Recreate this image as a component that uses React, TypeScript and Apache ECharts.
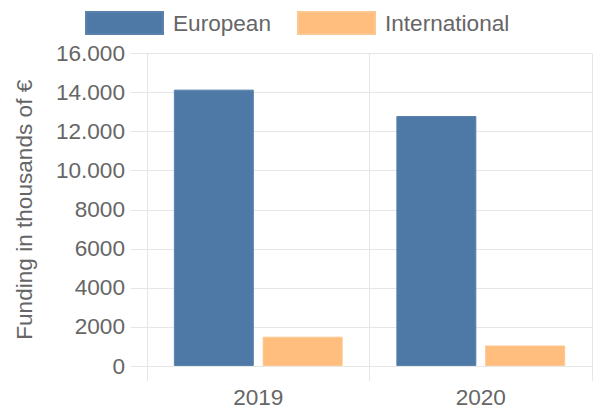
import React, { useEffect, useRef } from "react";
import * as echarts from "echarts";

const categories = ["2019", "2020"];
const seriesNames = ["European", "International"];
const europeanValues = [14150, 12800];
const internationalValues = [1500, 1050];
const yTicks = [0, 2000, 4000, 6000, 8000, 10000, 12000, 14000, 16000];

const FONT = "'Liberation Sans', Arial, Helvetica, sans-serif";
const TEXT = "#666666";
const GRID = "#e6e6e6";
const FS = 22.6;

function fmt(v: number): string {
  if (v >= 10000) {
    const s = String(v);
    return s.slice(0, s.length - 3) + "." + s.slice(s.length - 3);
  }
  return String(v);
}

export default function App() {
  const ref = useRef<HTMLDivElement>(null);
  useEffect(() => {
    if (!ref.current) return;
    const chart = echarts.init(ref.current, null, { renderer: "svg" });
    chart.setOption({
      animation: false,
      textStyle: { fontFamily: FONT },
      legend: {
        data: seriesNames,
        left: 80,
        top: 6,
        itemWidth: 77,
        itemHeight: 22,
        itemGap: 26,
        icon: "rect",
        textStyle: {
          fontFamily: FONT,
          fontSize: FS,
          color: TEXT,
          padding: [0, 0, 0, 5],
        },
      },
      grid: { left: 147, right: 6, top: 53.5, bottom: 50, containLabel: false },
      xAxis: {
        type: "category",
        data: categories,
        boundaryGap: true,
        axisLine: { show: true, lineStyle: { color: GRID, width: 1 } },
        axisTick: { show: true, length: 15, lineStyle: { color: GRID } },
        splitLine: { show: true, lineStyle: { color: GRID, width: 1 } },
        axisLabel: {
          color: TEXT,
          fontSize: FS,
          fontFamily: FONT,
          margin: 20,
        },
      },
      yAxis: {
        type: "value",
        min: yTicks[0],
        max: yTicks[yTicks.length - 1],
        interval: 2000,
        name: "Funding in thousands of €",
        nameLocation: "middle",
        nameGap: 111,
        nameTextStyle: { color: TEXT, fontSize: FS, fontFamily: FONT },
        axisLine: { show: true, lineStyle: { color: GRID, width: 1 } },
        axisTick: { show: true, length: 16, lineStyle: { color: GRID } },
        splitLine: { show: true, lineStyle: { color: GRID, width: 1 } },
        axisLabel: {
          color: TEXT,
          fontSize: FS,
          fontFamily: FONT,
          margin: 22,
          formatter: (v: number) => fmt(v),
        },
      },
      series: [
        {
          name: seriesNames[0],
          type: "bar",
          data: europeanValues,
          barWidth: 80,
          barGap: "11%",
          itemStyle: { color: "#4e79a7", borderColor: "#5a82ad", borderWidth: 1 },
        },
        {
          name: seriesNames[1],
          type: "bar",
          data: internationalValues,
          barWidth: 80,
          barGap: "11%",
          itemStyle: { color: "#ffbe7d", borderColor: "#fcc791", borderWidth: 1 },
        },
      ],
    });
    return () => chart.dispose();
  }, []);
  return (
    <div
      ref={ref}
      style={{ width: 598, height: 416, position: "absolute", left: 0, top: 0 }}
    />
  );
}
